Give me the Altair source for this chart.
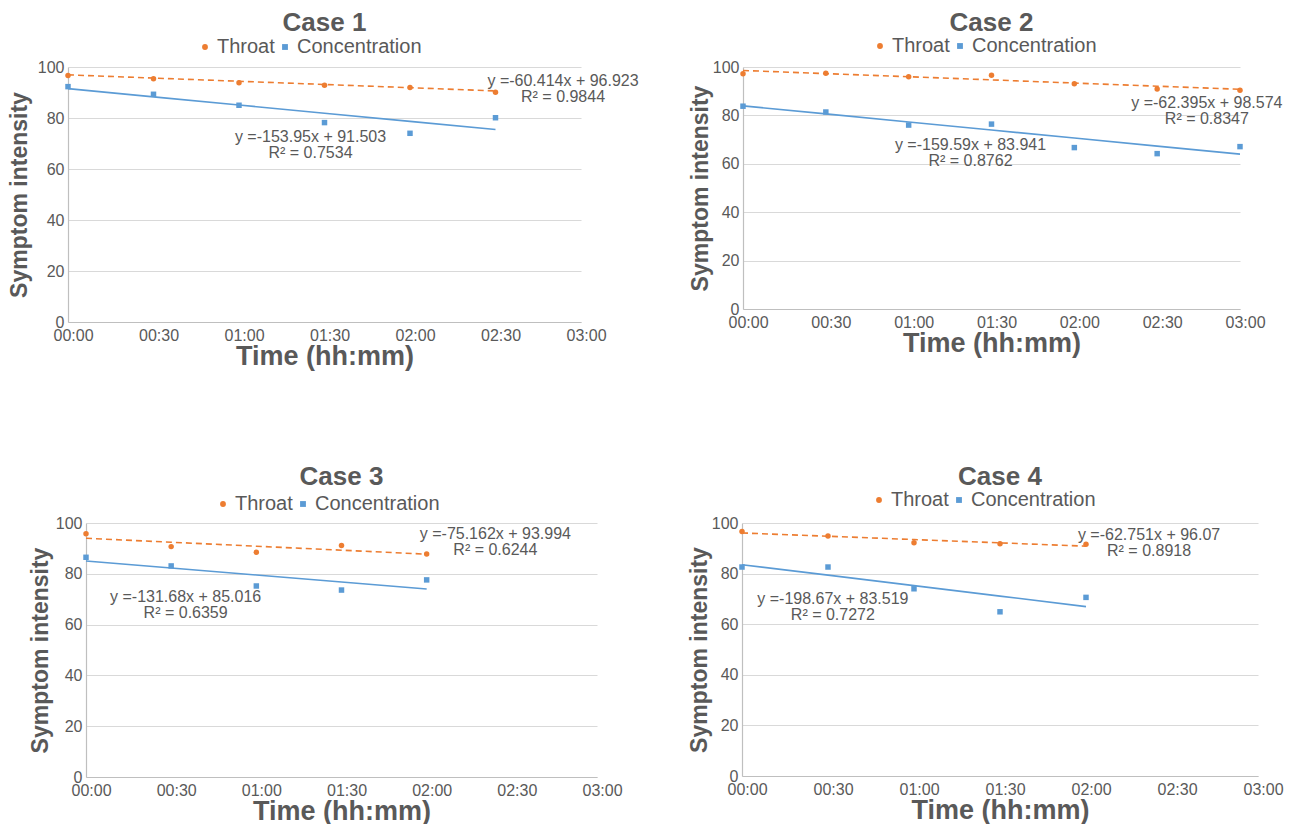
import altair as alt
import pandas as pd

ORANGE = "#ED7D31"
BLUE = "#5B9BD5"
GRAY = "#595959"
FONT = "Liberation Sans"

SERIES = ["Throat", "Concentration"]
CASES = ["Case 1", "Case 2", "Case 3", "Case 4"]

# time of each reading, minutes after start
TIMES = [
    [0, 30, 60, 90, 120, 150],
    [0, 30, 60, 90, 120, 150, 180],
    [0, 30, 60, 90, 120],
    [0, 30, 60, 90, 120],
]
THROAT = [
    [96.7, 95.4, 93.8, 92.8, 92.0, 90.1],
    [97.2, 97.4, 96.0, 96.6, 93.1, 90.9, 90.4],
    [95.8, 90.7, 88.5, 91.1, 87.8],
    [96.6, 94.9, 92.2, 91.8, 91.6],
]
CONCENTRATION = [
    [92.3, 89.3, 85.0, 78.2, 74.0, 80.1],
    [83.8, 81.4, 76.0, 76.4, 66.7, 64.2, 67.1],
    [86.5, 83.1, 75.2, 73.6, 77.6],
    [82.6, 82.6, 74.0, 64.9, 70.6],
]
# Excel linear trendlines (x in days): [Throat, Concentration]
SLOPES = [[-60.414, -153.95], [-62.395, -159.59], [-75.162, -131.68], [-62.751, -198.67]]
INTERCEPTS = [[96.923, 91.503], [98.574, 83.941], [93.994, 85.016], [96.07, 83.519]]
R2 = [[0.9844, 0.7534], [0.8347, 0.8762], [0.6244, 0.6359], [0.8918, 0.7272]]
# equation label anchors (first line centre, data units: minutes, intensity)
LABEL_T = [[173.7, 85.1], [168.0, 82.4], [144.2, 35.1], [142.0, 31.7]]
LABEL_V = [[94.6, 72.5], [85.1, 67.8], [95.7, 70.9], [95.3, 70.0]]

Y_TICKS = [0, 20, 40, 60, 80, 100]
X_TICKS = [0, 30, 60, 90, 120, 150, 180]

# layout / style per panel
PLOT_W = [513, 497, 511, 516]
PLOT_H = [255, 242, 254, 253]
TITLE_PAD = [6, 0, 3, 0]
TITLE_OFFSET = [1, 0, 4, 0]
LEGEND_Y = [-30, -31, -29, -33]
LEGEND_X = 127

X_LABEL_EXPR = ("(floor(datum.value/60) < 10 ? '0' : '') + floor(datum.value/60) + ':' + "
                "(datum.value % 60 < 10 ? '0' : '') + (datum.value % 60)")


def panel(k):
    rows = []
    for si, vals in enumerate([THROAT[k], CONCENTRATION[k]]):
        for t, v in zip(TIMES[k], vals):
            rows.append({"t": t, "value": v, "series": SERIES[si],
                         "slope": SLOPES[k][si], "intercept": INTERCEPTS[k][si]})
    df = pd.DataFrame(rows)
    ann = pd.DataFrame({
        "t": LABEL_T[k],
        "v": LABEL_V[k],
        "label": [f"y ={SLOPES[k][i]}x + {INTERCEPTS[k][i]}\nR\u00b2 = {R2[k][i]}" for i in range(2)],
    })

    xscale = alt.Scale(domain=[0, 180], nice=False)
    yscale = alt.Scale(domain=[0, 100], nice=False)
    xaxis = alt.Axis(values=X_TICKS, grid=False, ticks=False, labelExpr=X_LABEL_EXPR,
                     labelFlush=False, labelOffset=5, labelPadding=5,
                     title="Time (hh:mm)", titlePadding=0)
    yaxis = alt.Axis(values=Y_TICKS, ticks=False, labelPadding=4, title="Symptom intensity",
                     titlePadding=TITLE_PAD[k])

    leg = alt.Legend(orient="none", legendX=LEGEND_X, legendY=LEGEND_Y[k], direction="horizontal",
                     labelFontSize=20, labelColor=GRAY, labelFont=FONT, symbolSize=34,
                     symbolStrokeWidth=0, labelOffset=2, columnPadding=0, padding=0)

    base = alt.Chart(df)
    pts = base.mark_point(filled=True, size=30, opacity=1).encode(
        x=alt.X("t:Q", scale=xscale, axis=xaxis),
        y=alt.Y("value:Q", scale=yscale, axis=yaxis),
        color=alt.Color("series:N", title=None,
                        scale=alt.Scale(domain=SERIES, range=[ORANGE, BLUE]), legend=leg),
        shape=alt.Shape("series:N", title=None,
                        scale=alt.Scale(domain=SERIES, range=["circle", "square"]), legend=leg),
    )
    fit = base.transform_calculate(fit="datum.intercept + datum.slope * datum.t / 1440")
    line_o = fit.transform_filter(alt.datum.series == "Throat").mark_line(
        color=ORANGE, strokeWidth=1.6, strokeDash=[6, 4]).encode(
        x=alt.X("t:Q", scale=xscale), y=alt.Y("fit:Q", scale=yscale))
    line_b = fit.transform_filter(alt.datum.series == "Concentration").mark_line(
        color=BLUE, strokeWidth=1.6).encode(
        x=alt.X("t:Q", scale=xscale), y=alt.Y("fit:Q", scale=yscale))
    txt = alt.Chart(ann).mark_text(align="center", baseline="middle", lineBreak="\n",
                                   fontSize=16, lineHeight=16, color=GRAY, font=FONT).encode(
        x=alt.X("t:Q", scale=xscale), y=alt.Y("v:Q", scale=yscale), text="label:N")

    return alt.layer(line_o, line_b, pts, txt).properties(
        width=PLOT_W[k], height=PLOT_H[k],
        title=alt.TitleParams(CASES[k], fontSize=26, fontWeight="bold", color=GRAY,
                              font=FONT, offset=TITLE_OFFSET[k]),
    )


def indep(c):
    return c.resolve_scale(color="independent", shape="independent").resolve_legend(
        color="independent", shape="independent")


def spacer():
    # invisible zero-margin element so each row's left margin can be set independently
    return alt.Chart(pd.DataFrame({"a": [0]})).mark_point(size=0, opacity=0).encode(
        x=alt.value(0), y=alt.value(0)).properties(width=1, height=10)


panels = [panel(k) for k in range(4)]

row1 = indep(alt.hconcat(spacer(), indep(alt.hconcat(panels[0], panels[1], spacing=50)), spacing=7))
row2 = indep(alt.hconcat(spacer(), indep(alt.hconcat(panels[2], panels[3], spacing=65)), spacing=28))
chart = indep(alt.vconcat(row1, row2, spacing=95)).properties(
    padding={"left": 0, "top": 10, "right": 0, "bottom": 0}, background="white"
).configure(font=FONT).configure_view(stroke=None).configure_axis(
    labelFont=FONT, labelFontSize=16, labelColor=GRAY,
    titleFont=FONT, titleColor=GRAY, titleFontWeight="bold",
    domainColor="#BFBFBF", gridColor="#D9D9D9", domainWidth=1.2,
).configure_axisX(titleFontSize=27).configure_axisY(titleFontSize=23)

chart.save("out.html", embed_options={"renderer": "svg", "actions": False})
